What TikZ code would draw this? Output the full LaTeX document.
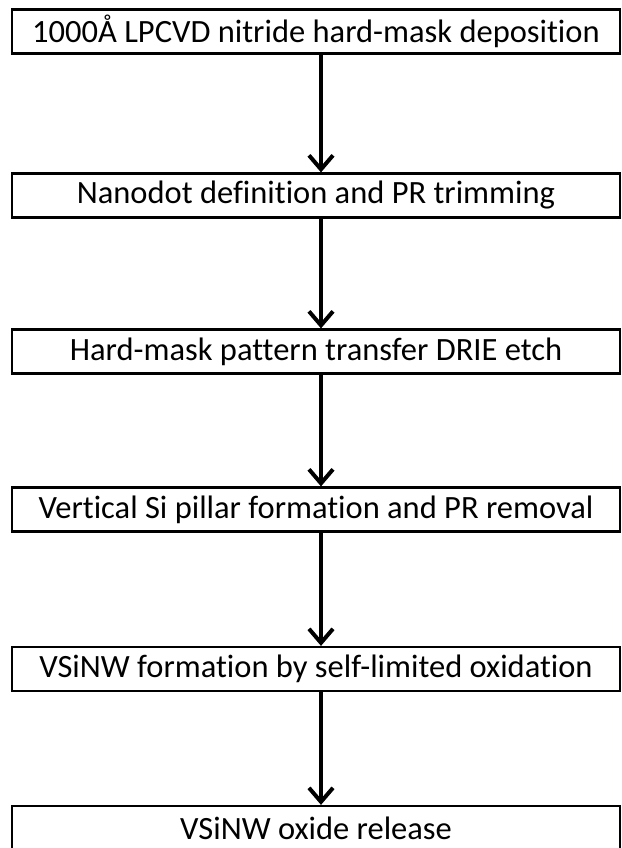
\documentclass[tikz,border=0pt]{standalone}
\usepackage{fontspec}
\setmainfont[Ligatures=NoCommon]{Carlito}
\usetikzlibrary{arrows.meta}

\begin{document}
\begin{tikzpicture}[x=1pt,y=-1pt,
    stepbox/.style={draw,line width=2.2pt,minimum width=608pt,minimum height=44pt,inner sep=0pt,font=\fontsize{32.5}{35}\selectfont},
    flow/.style={line width=4pt,-{Straight Barb[length=14pt,width=24pt,line width=4pt]}}]
  \useasboundingbox(0,0)rectangle(621,848);
  \node[stepbox](dep)at(316,31.5){1000Å LPCVD nitride hard-mask deposition};
  \node[stepbox](dot)at(316,195.5){Nanodot definition and PR trimming};
  \node[stepbox](hm)at(316,351.5){Hard-mask pattern transfer DRIE etch};
  \node[stepbox](pil)at(316,509.5){Vertical Si pillar formation and PR removal};
  \node[stepbox](ox)at(316,669){VSiNW formation by self-limited oxidation};
  \node[stepbox](rel)at(316,828){VSiNW oxide release};
  % arrows sit a little right of the box centres
  \foreach \a/\b in {dep/dot,dot/hm,hm/pil,pil/ox,ox/rel}
    \draw[flow]([xshift=5pt]\a.south)--([xshift=5pt]\b.north);
\end{tikzpicture}
\end{document}
